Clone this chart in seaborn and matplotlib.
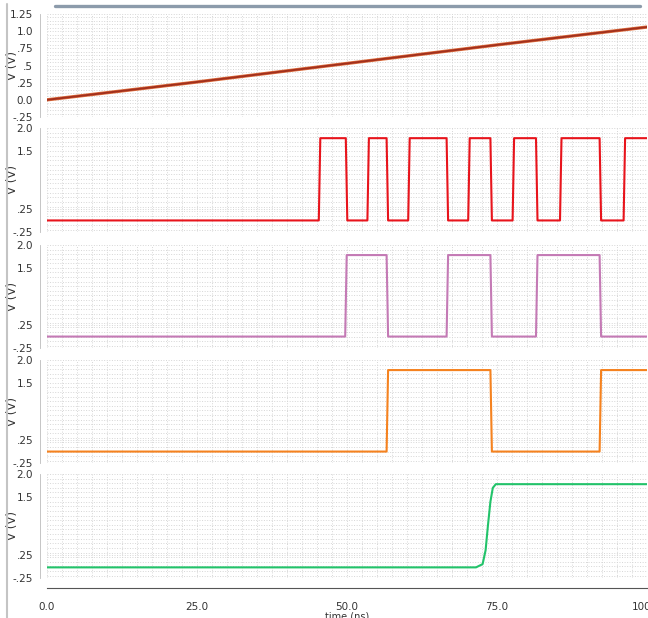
import numpy as np
import matplotlib
matplotlib.use('Agg')
import matplotlib.pyplot as plt
from matplotlib.ticker import MultipleLocator, FixedLocator, FixedFormatter
import seaborn as sns

# waveform data (time in ns, volts)
ramp_t = [0.0, 25.0, 50.0, 75.0, 100.0]
ramp_v = [0.0, 0.26, 0.53, 0.80, 1.06]

red_edges = [45.3, 49.8, 53.4, 56.6, 60.2, 66.6, 70.2, 73.9, 77.6, 81.5, 85.5, 92.1, 96.1]
purple_edges = [49.7, 56.6, 66.6, 73.9, 81.5, 92.1]
orange_edges = [56.6, 73.9, 92.1]
low_level = 0.0
high_level = 1.78

green_t = [0.0, 71.5, 72.6, 73.1, 73.5, 73.9, 74.3, 74.8, 75.5, 100.0]
green_v = [-0.02, -0.02, 0.05, 0.35, 0.9, 1.4, 1.7, 1.78, 1.78, 1.78]

x_ticks = [0.0, 25.0, 50.0, 75.0, 100.0]
x_labels = ['0.0', '25.0', '50.0', '75.0', '100.0']
top_ticks = [1.25, 1.0, 0.75, 0.5, 0.25, 0.0, -0.25]
top_labels = ['1.25', '1.0', '.75', '.5', '.25', '0.0', '-.25']
dig_ticks = [2.0, 1.5, 0.25, -0.25]
dig_labels = ['2.0', '1.5', '.25', '-.25']

colors = ['#a2301d', '#e8141c', '#c47ab5', '#f5821f', '#22c36a']


def square(edges, lo, hi, rise=0.25):
    t, v = [0.0], [lo]
    level = lo
    for e in edges:
        nxt = hi if level == lo else lo
        t += [e, e + rise]
        v += [level, nxt]
        level = nxt
    t.append(100.0)
    v.append(level)
    return t, v


sns.set_style('white')
plt.rcParams['font.family'] = ['DejaVu Sans']

fig = plt.figure(figsize=(6.48, 6.18), dpi=100)
H = 618.0
left = 47 / 648.0
width = 600 / 648.0
panels_px = [(14, 117), (128, 232), (245, 348), (360, 463), (474, 578)]
axes = []
for top, bot in panels_px:
    ax = fig.add_axes([left, 1 - bot / H, width, (bot - top) / H])
    axes.append(ax)

series = [(ramp_t, ramp_v)]
for edges in (red_edges, purple_edges, orange_edges):
    series.append(square(edges, low_level, high_level))
series.append((green_t, green_v))

for i, (ax, (t, v)) in enumerate(zip(axes, series)):
    if i == 0:
        sns.lineplot(x=t, y=v, ax=ax, color='#e0703f', lw=2.4, sort=False)
        sns.lineplot(x=t, y=v, ax=ax, color=colors[0], lw=1.4, sort=False)
        ax.set_ylim(-0.25, 1.25)
        ax.yaxis.set_major_locator(FixedLocator(top_ticks))
        ax.yaxis.set_major_formatter(FixedFormatter(top_labels))
        ax.yaxis.set_minor_locator(MultipleLocator(0.05))
    else:
        sns.lineplot(x=t, y=v, ax=ax, color=colors[i], lw=1.5, sort=False)
        ax.set_ylim(-0.25, 2.0)
        ax.yaxis.set_major_locator(FixedLocator(dig_ticks))
        ax.yaxis.set_major_formatter(FixedFormatter(dig_labels))
        ax.yaxis.set_minor_locator(MultipleLocator(0.1))
    ax.set_xlim(0, 100)
    ax.xaxis.set_major_locator(FixedLocator(x_ticks))
    ax.xaxis.set_minor_locator(MultipleLocator(2.5))
    ax.grid(which='both', axis='both', color='#d6d6d6', ls=':', lw=0.7)
    ax.set_axisbelow(True)
    for s in ('top', 'right', 'bottom'):
        ax.spines[s].set_visible(False)
    ax.spines['left'].set_position(('outward', 5))
    ax.spines['left'].set_color('#bbbbbb')
    ax.spines['left'].set_linewidth(0.6)
    ax.tick_params(axis='y', which='major', length=4, width=0.6, color='#888888',
                   labelsize=7.5, pad=1, labelcolor='#333333')
    ax.tick_params(axis='y', which='minor', length=2.5, width=0.5, color='#999999')
    ax.set_ylabel('V (V)', fontsize=8.5, color='#333333')
    ax.yaxis.set_label_coords(-0.047, 0.5)
    ax.set_xlabel('')
    if i < 4:
        ax.tick_params(axis='x', which='both', bottom=False, labelbottom=False)

bx = axes[-1]
bx.spines['bottom'].set_visible(True)
bx.spines['bottom'].set_position(('outward', 7))
bx.spines['bottom'].set_color('#555555')
bx.spines['bottom'].set_linewidth(0.8)
bx.xaxis.set_major_formatter(FixedFormatter(x_labels))
bx.tick_params(axis='x', which='major', length=5, width=0.8, color='#555555',
               labelsize=7.5, pad=5, labelcolor='#333333')
bx.tick_params(axis='x', which='minor', length=3, width=0.6, color='#555555')
bx.set_xlabel('time (ns)', fontsize=7, color='#333333', labelpad=0)

# window chrome: top bar and left border
fig.add_artist(plt.Line2D([55 / 648, 640 / 648], [1 - 6 / H, 1 - 6 / H],
                          color='#8c9bab', lw=2.4, transform=fig.transFigure))
fig.add_artist(plt.Line2D([7 / 648, 7 / 648], [0, 1 - 4 / H],
                          color='#c4c4c4', lw=1.5, transform=fig.transFigure))

fig.savefig('out.png', dpi=100)
